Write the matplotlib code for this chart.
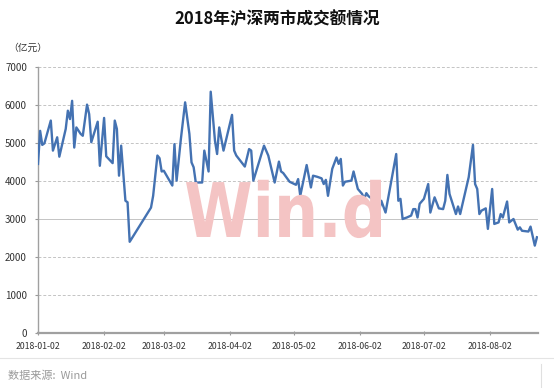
import numpy as np
import pandas as pd
import matplotlib
matplotlib.use('Agg')
import matplotlib.pyplot as plt
import matplotlib.dates as mdates
from matplotlib.textpath import TextPath
from matplotlib.patches import PathPatch
from matplotlib.font_manager import FontProperties
from matplotlib.transforms import Affine2D

plt.rcParams['font.family'] = ['Noto Sans CJK SC', 'DejaVu Sans']

# ── data: days since 2018-01-02, turnover (亿元) ──
start_date = '2018-01-02'
day_offset = [0, 1, 2, 3, 6, 7, 9, 10, 13, 14, 15, 16, 17, 18, 20, 21, 23, 24,
              25, 28, 29, 31, 32, 35, 36, 37, 38, 39, 41, 42, 43, 53, 54, 56,
              57, 58, 59, 63, 64, 65, 67, 69, 71, 72, 73, 74, 77, 78, 80, 81,
              82, 83, 84, 85, 87, 91, 92, 93, 97, 99, 100, 101, 106, 108, 111,
              113, 114, 115, 118, 121, 122, 123, 126, 128, 129, 131, 133, 134,
              135, 136, 138, 140, 141, 142, 143, 144, 147, 148, 150, 152, 153,
              154, 155, 158, 160, 161, 163, 168, 169, 170, 171, 173, 175, 176,
              177, 178, 179, 181, 183, 184, 186, 188, 190, 191, 192, 193, 196,
              197, 198, 202, 204, 205, 206, 207, 208, 210, 211, 213, 214, 216,
              217, 218, 220, 221, 223, 225, 226, 227, 230, 231, 233, 234]
turnover = [4450, 5320, 4950, 4990, 5590, 4800, 5150, 4640, 5370, 5850, 5630,
            6110, 4880, 5410, 5240, 5190, 6010, 5760, 5020, 5560, 4400, 5660,
            4650, 4470, 5590, 5370, 4140, 4930, 3480, 3440, 2400, 3300, 3610,
            4670, 4600, 4250, 4270, 3880, 4970, 4010, 5100, 6070, 5240, 4490,
            4360, 3960, 3960, 4800, 4250, 6350, 5720, 5060, 4710, 5410, 4800,
            5740, 4800, 4670, 4380, 4840, 4800, 4010, 4930, 4670, 3960, 4510,
            4250, 4210, 3980, 3900, 4050, 3610, 4420, 3830, 4140, 4110, 4070,
            3920, 4030, 3610, 4320, 4620, 4450, 4580, 3880, 3980, 4010, 4250,
            3790, 3660, 3530, 3680, 3600, 3480, 3220, 3480, 3170, 4710, 3480,
            3530, 3000, 3040, 3090, 3260, 3260, 3040, 3400, 3530, 3920, 3170,
            3570, 3280, 3260, 3480, 4160, 3660, 3130, 3330, 3130, 4100, 4950,
            3920, 3790, 3130, 3220, 3280, 2740, 3790, 2870, 2910, 3130, 3040,
            3460, 2910, 3000, 2720, 2780, 2690, 2670, 2800, 2300, 2520]

tick_dates = ['2018-01-02', '2018-02-02', '2018-03-02', '2018-04-02',
              '2018-05-02', '2018-06-02', '2018-07-02', '2018-08-02']
y_ticks = [0, 1000, 2000, 3000, 4000, 5000, 6000, 7000]

dates = pd.Timestamp(start_date) + pd.to_timedelta(day_offset, unit='D')

fig = plt.figure(figsize=(5.54, 3.88), dpi=100)
ax = fig.add_axes([38 / 554, 1 - 333 / 388, 500 / 554, 266 / 388])

# ── watermark "Win.d" squeezed into its box (pixel coords) ──
tp = TextPath((0, 0), 'Win.d', size=1, prop=FontProperties(family='DejaVu Sans', weight='bold'))
ext = tp.get_extents()
x0, x1, base, cap = 186, 381, 237, 182
sx = (x1 - x0) / ext.width
sy = (base - cap) / 0.73
trans = (Affine2D().translate(-ext.x0, 0).scale(sx / 554, sy / 388)
         .translate(x0 / 554, 1 - base / 388) + fig.transFigure)
fig.patches.append(PathPatch(tp, transform=trans, facecolor='#f4c4c4',
                             edgecolor='none', zorder=0))
ax.set_facecolor('none')

# ── gridlines ──
for yv in y_ticks[1:]:
    ls = '-' if yv == 3000 else (0, (3, 2))
    ax.axhline(yv, color='#c4c4c4', lw=0.7, ls=ls, zorder=1)

ax.plot(dates, turnover, color='#4472b2', lw=1.7, zorder=3)

ax.set_xlim(pd.Timestamp(start_date), pd.Timestamp(start_date) + pd.Timedelta(days=234.5))
ax.set_ylim(0, 7000)
ax.set_yticks(y_ticks)
ax.set_yticklabels([str(v) for v in y_ticks], fontsize=7, color='#333333')
ax.set_xticks(pd.to_datetime(tick_dates))
ax.xaxis.set_major_formatter(mdates.DateFormatter('%Y-%m-%d'))
ax.tick_params(axis='x', labelsize=6.3, colors='#333333', length=3,
               direction='inout', color='#999999', pad=5)
ax.tick_params(axis='y', length=2, color='#999999', pad=6)

for side in ['top', 'right']:
    ax.spines[side].set_visible(False)
ax.spines['left'].set_color('#a0a0a0')
ax.spines['left'].set_linewidth(1.0)
ax.spines['bottom'].set_color('#a0a0a0')
ax.spines['bottom'].set_linewidth(1.6)

fig.text(0.5, 1 - 19 / 388, '2018年沪深两市成交额情况', ha='center', va='center',
         fontsize=12, fontweight='bold', color='#111111')
fig.text(8 / 554, 1 - 48 / 388, '（亿元）', ha='left', va='center',
         fontsize=7, color='#333333')
fig.text(8 / 554, 1 - 376 / 388, '数据来源:  Wind', ha='left', va='center',
         fontsize=8, color='#9a9a9a')

fig.add_artist(plt.Line2D([0, 1], [1 - 358 / 388] * 2, transform=fig.transFigure,
                          color='#e4e4e4', lw=0.8))
fig.add_artist(plt.Line2D([541 / 554] * 2, [0, 1 - 364 / 388], transform=fig.transFigure,
                          color='#e0e0e0', lw=0.8))

fig.savefig('out.png', dpi=100, facecolor='white')
